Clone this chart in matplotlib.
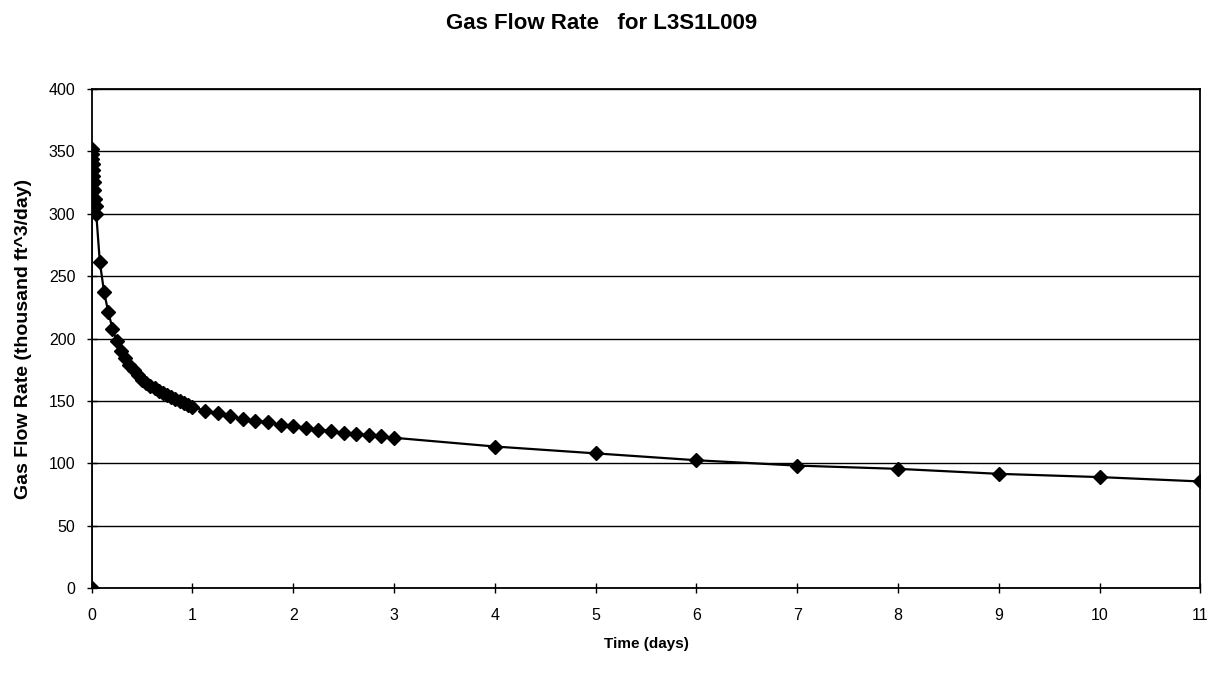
import matplotlib
matplotlib.use("Agg")
import matplotlib.pyplot as plt

# Time (days) and gas flow rate (thousand ft^3/day)
time_days = [
    0.0, 0.002, 0.004, 0.007, 0.010, 0.014, 0.018, 0.022, 0.027, 0.033,
    0.040, 0.047,
    0.083, 0.125, 0.167, 0.208, 0.250, 0.292, 0.333, 0.375, 0.417, 0.458,
    0.500, 0.542, 0.583, 0.625, 0.667, 0.708, 0.750, 0.792, 0.833, 0.875,
    0.917, 0.958, 1.000,
    1.125, 1.250, 1.375, 1.500, 1.625, 1.750, 1.875, 2.000, 2.125, 2.250,
    2.375, 2.500, 2.625, 2.750, 2.875, 3.000,
    4, 5, 6, 7, 8, 9, 10, 11,
]
flow_rate = [
    0, 352, 348, 344, 340, 335, 330, 325, 319, 312,
    306, 300,
    261, 237, 221, 208, 198, 190, 184, 179, 175, 171,
    167, 164.5, 162, 160, 158, 156, 154.5, 153, 151.5, 150,
    148.5, 147, 145.5,
    142, 140.5, 138, 135.5, 134, 132.8, 131, 130, 128.3, 127,
    126, 124.3, 123.5, 122.7, 121.7, 120.5,
    113.5, 108, 102.5, 98.2, 95.6, 91.6, 89, 85.5,
]

plt.rcParams["font.family"] = ["Liberation Sans", "DejaVu Sans"]

fig = plt.figure(figsize=(12.2, 6.73), dpi=100)
ax = fig.add_axes([0.075, 0.126, 0.909, 0.742])

ax.plot(time_days, flow_rate, color="black", linewidth=1.6,
        marker="D", markersize=7, markerfacecolor="black",
        markeredgecolor="black", zorder=3)

ax.set_xlim(0, 11)
ax.set_ylim(0, 400)
ax.set_xticks(range(0, 12))
ax.set_yticks(range(0, 401, 50))

ax.yaxis.grid(True, color="black", linewidth=1.0)
ax.set_axisbelow(True)

for sp in ax.spines.values():
    sp.set_linewidth(1.3)
    sp.set_color("black")

ax.tick_params(direction="inout", length=7, width=1.0, labelsize=11.5,
               colors="black")
ax.tick_params(axis="x", pad=11)
ax.tick_params(axis="y", pad=8)

ax.set_xlabel("Time (days)", fontsize=11, fontweight="bold", labelpad=10)
ax.set_ylabel("Gas Flow Rate (thousand ft^3/day)", fontsize=14,
              fontweight="bold", labelpad=12)
fig.suptitle("Gas Flow Rate   for L3S1L009", fontsize=16, fontweight="bold",
             x=0.493, y=0.98)

fig.savefig("out.png", dpi=100)
